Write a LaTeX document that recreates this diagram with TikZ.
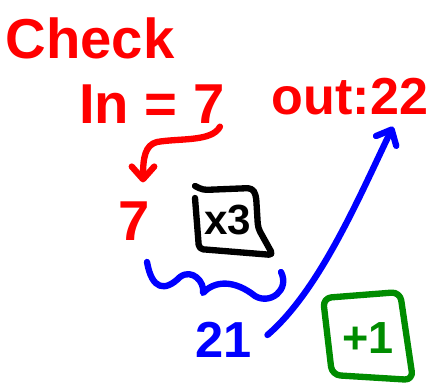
\documentclass[tikz,border=0pt]{standalone}
\usepackage{fontspec}
\setmainfont{Liberation Sans}
\usetikzlibrary{arrows.meta}
\definecolor{penred}{RGB}{255,0,0}
\definecolor{penblue}{RGB}{0,0,255}
\definecolor{pengreen}{RGB}{0,140,0}

\begin{document}
\begin{tikzpicture}[x=0.025cm,y=-0.025cm,
    pen/.style={line width=4.5pt,line cap=round,line join=round},
    scrawl/.style={inner sep=0pt,font=\fontsize{#1}{#1}\selectfont\bfseries},
    tip/.style={-{Straight Barb[length=9pt,width=16pt,round]}}]
    \useasboundingbox (0,0) rectangle (433,387);

    % Input side
    \node[scrawl=40,penred] (check) at (90,38) {Check};
    \node[scrawl=40,penred] (in) at (152,104) {In = 7};
    \node[scrawl=40,penred] (seven) at (134,221) {7};
    \draw[pen,tip,penred] ([shift={(-5,3)}]in.south east)
        .. controls (212,142) and (180,138) .. (157,142)
        .. controls (145,145) and (143,158) .. ([shift={(9,-19)}]seven.north);

    % Times three
    \node[scrawl=30] (times) at (228,220) {x3};
    \draw[pen,rounded corners=3pt] (195,186) -- (203,190) -- (252,188) -- (256,195)
        -- (258,228) -- (273,255) -- (199,249) -- (195,198);

    % Brace under 7 and x3
    \draw[pen,penblue] (147,262) .. controls (152,290) and (165,292) .. (180,277)
        .. controls (192,268) and (205,282) .. (203,293)
        .. controls (215,280) and (235,280) .. (255,296)
        .. controls (270,305) and (290,290) .. (281,272);
    \node[scrawl=36,penblue] (result) at (224,340) {21};

    % Plus one
    \node[scrawl=32,pengreen] (plus) at (368,338) {+1};
    \draw[pen,pengreen,rounded corners=6pt] (323,298) -- (400,292) -- (413,380)
        -- (332,375) -- cycle;

    % Output
    \node[scrawl=37,penred] (out) at (350,97) {out:22};
    \draw[pen,tip,penblue] ([shift={(15,-5)}]result.east)
        .. controls (320,290) and (360,195) .. ([shift={(43,11)}]out.south);
\end{tikzpicture}
\end{document}
